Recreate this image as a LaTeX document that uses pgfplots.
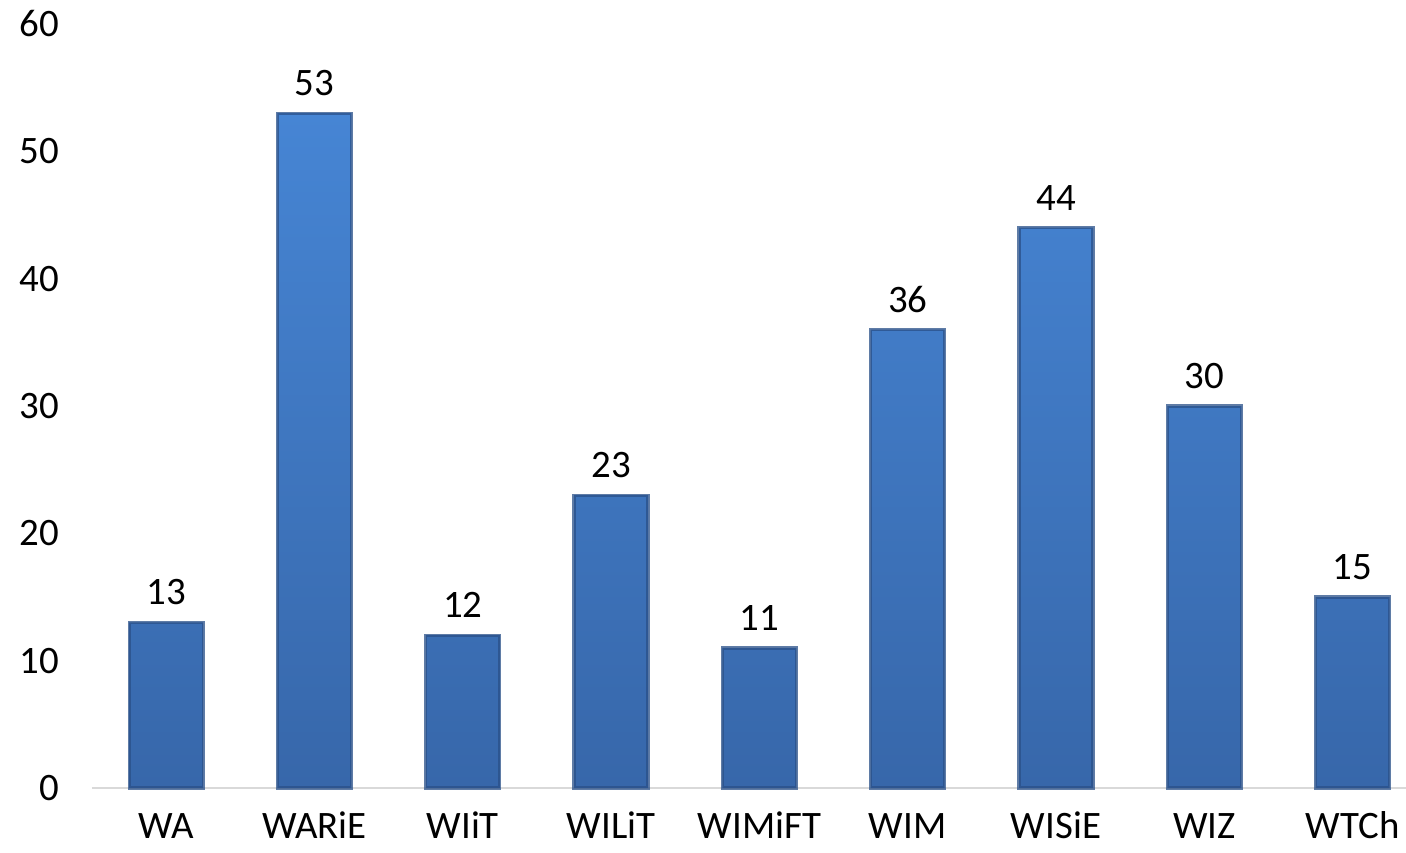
\documentclass[border=0pt]{standalone}
\usepackage{fontspec}
\setmainfont{Carlito}
\usepackage{pgfplots}
\pgfplotsset{compat=1.18}
\definecolor{bartop}{RGB}{70,133,212}
\definecolor{barbot}{RGB}{55,103,170}
\definecolor{baredge}{RGB}{42,80,136}
\begin{document}
\begin{tikzpicture}
\begin{axis}[
  scale only axis,
  width=657bp, height=382bp,
  xmin=-0.5, xmax=8.36,
  ymin=0, ymax=60,
  ytick={0,10,...,60},
  xtick=data,
  xticklabels={WA,WARiE,WIiT,WILiT,WIMiFT,WIM,WISiE,WIZ,WTCh},
  font=\fontsize{19.5}{23}\selectfont,
  /pgf/number format/assume math mode=true,
  axis x line*=bottom,
  axis y line*=left,
  y axis line style={draw=none},
  x axis line style={draw={rgb,255:red,217;green,217;blue,217}, line width=1.2bp, -},
  major tick length=0pt,
  xtick style={draw=none}, ytick style={draw=none},
  yticklabel style={xshift=-13bp, text=black},
  xticklabel style={anchor=base, yshift=-25bp, text=black},
  nodes near coords,
  every node near coord/.append style={yshift=4.5bp, text=black},
  clip=false,
]
\addplot[ybar, bar width=37bp, draw=baredge, draw opacity=0.75, line width=1.6bp,
  top color=bartop, bottom color=barbot]
  coordinates {(0,13) (1,53) (2,12) (3,23) (4,11) (5,36) (6,44) (7,30) (8,15)};
\end{axis}
\pgfresetboundingbox
\path ([xshift=-46bp,yshift=-32bp]current axis.south west) rectangle ([yshift=12bp]current axis.north east);
\end{tikzpicture}
\end{document}
